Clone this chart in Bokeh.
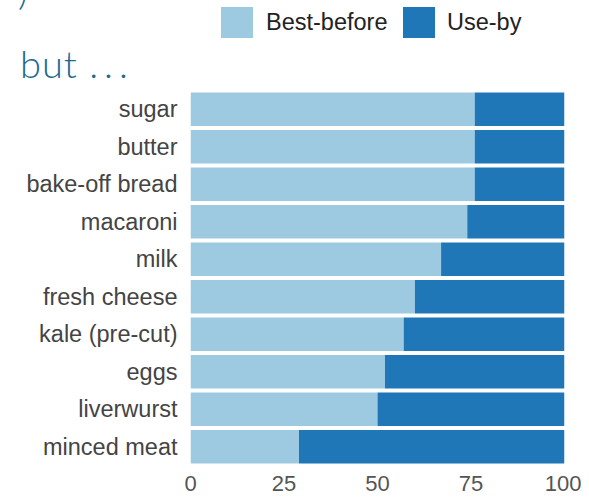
from bokeh.plotting import figure
from bokeh.layouts import column
from bokeh.models import ColumnDataSource, FactorRange, Range1d, FixedTicker, Div
from bokeh.embed import file_html
from bokeh.resources import INLINE

items = ["sugar", "butter", "bake-off bread", "macaroni", "milk",
         "fresh cheese", "kale (pre-cut)", "eggs", "liverwurst", "minced meat"]
best_before = [76, 76, 76, 74, 67, 60, 57, 52, 50, 29]
use_by = [24, 24, 24, 26, 33, 40, 43, 48, 50, 71]
x_ticks = [0, 25, 50, 75, 100]
series_names = ["Best-before", "Use-by"]
colors = ["#9ecae1", "#2077b8"]
heading = "but ..."

W = 581
TOP_H = 90
MAIN_H = 404

src = ColumnDataSource(dict(item=items, best=best_before, use=use_by))

# ---- header: heading text + legend ----
swatch_left = [221, 403]
label_left = [266, 447]
head_word, head_dots = heading.split(" ")
heading_style = ("position:absolute;white-space:nowrap;font-family:Lato;font-weight:300;"
                 "font-size:38px;line-height:1;color:#1d6a91;letter-spacing:1px;")
parts = ['<div style="position:relative;width:%dpx;height:%dpx;overflow:visible;">' % (W, TOP_H)]
parts.append('<span style="%sleft:18px;top:-29px;">)</span>' % heading_style)
parts.append('<span style="%sleft:20px;top:44px;">%s <span style="letter-spacing:6px;">%s</span></span>'
             % (heading_style, head_word, head_dots))
for name, col, sl, ll in zip(series_names, colors, swatch_left, label_left):
    parts.append('<span style="position:absolute;left:%dpx;top:7px;width:32px;height:31px;'
                 'background:%s;"></span>' % (sl, col))
    parts.append('<span style="position:absolute;left:%dpx;top:7px;height:31px;line-height:31px;'
                 'white-space:nowrap;font-family:\'Liberation Sans\';font-size:23.5px;color:#222222;">%s</span>'
                 % (ll, name))
parts.append('</div>')
header = Div(text="".join(parts), width=W, height=TOP_H, margin=0)

# ---- main bar chart ----
p = figure(width=W, height=MAIN_H, output_backend="svg", toolbar_location=None,
           y_range=FactorRange(factors=items[::-1]), x_range=Range1d(0, 100),
           min_border_left=190, min_border_right=17, min_border_top=0, min_border_bottom=29)

p.hbar_stack(["best", "use"], y="item", height=0.89, source=src,
             color=colors, line_color=None)

p.outline_line_color = None
p.xgrid.grid_line_color = None
p.ygrid.grid_line_color = None

for ax in (p.xaxis, p.yaxis):
    ax.axis_line_color = None
    ax.major_tick_line_color = None
    ax.minor_tick_line_color = None
    ax.major_label_text_font = "Liberation Sans"

p.xaxis.ticker = FixedTicker(ticks=x_ticks)
p.xaxis.major_label_text_font_size = "22px"
p.xaxis.major_label_text_color = "#555555"
p.xaxis.major_label_standoff = 4
p.yaxis.major_label_text_font_size = "23.5px"
p.yaxis.major_label_text_color = "#444444"
p.yaxis.major_label_standoff = 7

layout = column(header, p, spacing=0)
open("out.html", "w").write(file_html(layout, INLINE))
